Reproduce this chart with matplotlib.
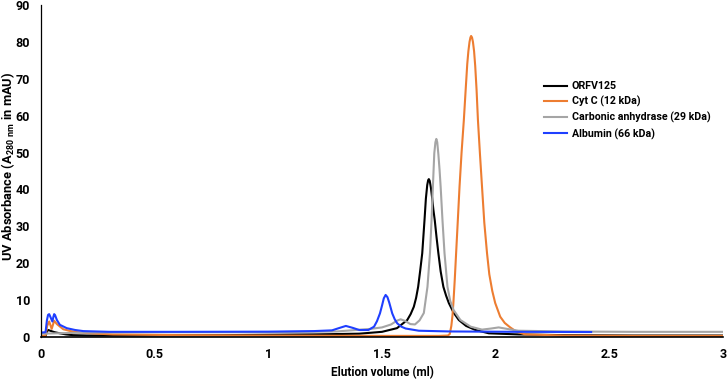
import matplotlib

matplotlib.use("Agg")

import matplotlib.pyplot as plt


# elution profiles (volume in ml, absorbance in mAU)
ORFV_X = [0.0, 0.02, 0.026, 0.032, 0.045, 0.06, 0.083, 0.11, 0.14, 0.2, 0.4, 0.8, 1.2, 1.4, 1.5,
          1.566, 1.611, 1.626, 1.64, 1.65, 1.659, 1.668, 1.677, 1.687, 1.693, 1.699, 1.703, 1.706,
          1.71, 1.715, 1.72, 1.726, 1.732, 1.74, 1.748, 1.758, 1.77, 1.782, 1.794, 1.815, 1.838,
          1.87, 1.911, 1.97, 2.1, 2.3, 2.6, 3.0]
ORFV_Y = [0.1, 0.2, 1.5, 1.9, 1.6, 1.3, 1.0, 0.7, 0.5, 0.4, 0.4, 0.5, 0.7, 0.9, 1.4,
          2.4, 4.6, 6.2, 8.2, 10.6, 13.6, 18.0, 22.7, 31.7, 37.5, 41.2, 42.5, 42.8,
          42.3, 40.5, 38.0, 34.5, 31.7, 27.0, 22.7, 17.8, 13.6, 11.2, 9.2, 6.6, 4.6,
          3.0, 1.9, 1.0, 0.7, 0.5, 0.4, 0.4]

CYTC_X = [0.0, 0.02, 0.027, 0.036, 0.047, 0.058, 0.07, 0.098, 0.13, 0.171, 0.25, 0.316, 0.6, 1.0,
          1.5, 1.75, 1.79, 1.798, 1.805, 1.81, 1.814, 1.82, 1.826, 1.833, 1.841, 1.85, 1.86, 1.868,
          1.875, 1.88, 1.885, 1.889, 1.892, 1.896, 1.9, 1.905, 1.91, 1.916, 1.922, 1.931, 1.94,
          1.95, 1.962, 1.972, 1.985, 1.998, 2.02, 2.04, 2.064, 2.09, 2.13, 2.3, 2.6, 3.0]
CYTC_Y = [0.3, 0.4, 3.0, 4.2, 2.2, 4.4, 3.5, 2.1, 1.6, 1.2, 0.9, 0.7, 0.5, 0.4,
          0.3, 0.3, 0.4, 0.8, 3.0, 5.8, 9.2, 15.5, 22.7, 31.0, 40.7, 50.0, 58.8, 67.0,
          74.0, 77.5, 80.0, 81.2, 81.6, 81.2, 80.0, 77.5, 73.5, 67.0, 58.8, 49.5, 40.7,
          31.0, 22.7, 17.0, 12.5, 9.2, 5.5, 3.8, 2.6, 1.5, 0.7, 0.4, 0.3, 0.3]

CARB_X = [0.0, 0.2, 0.6, 1.0, 1.3, 1.45, 1.5, 1.54, 1.565, 1.582, 1.6, 1.625, 1.645, 1.665,
          1.684, 1.70, 1.711, 1.718, 1.724, 1.73, 1.735, 1.739, 1.743, 1.748, 1.753, 1.758,
          1.766, 1.775, 1.788, 1.8, 1.815, 1.845, 1.89, 1.94, 1.98, 2.013, 2.05, 2.1, 2.3,
          2.6, 3.0]
CARB_Y = [0.9, 1.2, 1.3, 1.3, 1.5, 2.2, 2.6, 3.4, 4.4, 4.8, 4.4, 3.5, 3.4, 4.5,
          6.5, 13.6, 22.7, 31.7, 41.0, 49.8, 52.8, 53.7, 52.8, 49.5, 45.5, 40.7,
          31.7, 22.7, 13.6, 9.8, 7.3, 4.6, 2.8, 2.0, 2.3, 2.6, 2.2, 1.7, 1.5,
          1.4, 1.4]

ALB_X = [0.0, 0.02, 0.026, 0.031, 0.036, 0.043, 0.05, 0.055, 0.058, 0.062, 0.07, 0.083, 0.113,
         0.15, 0.186, 0.3, 0.6, 1.0, 1.2, 1.28, 1.31, 1.341, 1.37, 1.40, 1.44, 1.465, 1.478,
         1.491, 1.5, 1.508, 1.516, 1.524, 1.532, 1.545, 1.556, 1.567, 1.585, 1.604, 1.662,
         1.8, 2.1, 2.42]
ALB_Y = [1.2, 1.3, 4.5, 6.0, 6.2, 5.2, 4.2, 5.6, 6.2, 5.9, 4.6, 3.3, 2.4,
         1.9, 1.6, 1.4, 1.4, 1.45, 1.6, 1.8, 2.4, 3.0, 2.5, 1.9, 1.9, 2.8, 4.3,
         6.4, 8.5, 10.5, 11.4, 10.8, 9.3, 6.4, 4.8, 3.7, 2.8, 2.3, 1.7,
         1.5, 1.4, 1.35]

SERIES_LABELS = ["ORFV125", "Cyt C (12 kDa)", "Carbonic anhydrase (29 kDa)", "Albumin (66 kDa)"]
SERIES_COLORS = ["#000000", "#ed7d31", "#a5a5a5", "#1f3fff"]

X_TICKS = [0, 0.5, 1, 1.5, 2, 2.5, 3]
X_TICK_LABELS = ["0", "0.5", "1", "1.5", "2", "2.5", "3"]
Y_TICKS = [0, 10, 20, 30, 40, 50, 60, 70, 80, 90]

FONT = "Roboto"


def main():
    plt.rcParams["font.family"] = [FONT, "DejaVu Sans"]
    plt.rcParams["font.weight"] = "bold"
    plt.rcParams["axes.labelweight"] = "bold"
    plt.rcParams["mathtext.fontset"] = "custom"
    plt.rcParams["mathtext.rm"] = f"{FONT}:bold"
    plt.rcParams["mathtext.bf"] = f"{FONT}:bold"
    plt.rcParams["mathtext.default"] = "rm"

    fig = plt.figure(figsize=(7.27, 3.81), dpi=100)
    ax = fig.add_axes([41 / 727, 44 / 381, 682 / 727, 332 / 381])

    series = [(ORFV_X, ORFV_Y), (CYTC_X, CYTC_Y), (CARB_X, CARB_Y), (ALB_X, ALB_Y)]
    for (xs, ys), label, color in zip(series, SERIES_LABELS, SERIES_COLORS):
        ax.plot(xs, ys, color=color, lw=1.5, label=label, solid_joinstyle="round")

    ax.set_xlim(0, 3)
    ax.set_ylim(0, 90)
    ax.set_xticks(X_TICKS)
    ax.set_xticklabels(X_TICK_LABELS, fontweight="bold")
    ax.set_yticks(Y_TICKS)
    ax.set_yticklabels([str(v) for v in Y_TICKS], fontweight="bold")
    ax.tick_params(length=0, labelsize=9)
    ax.tick_params(axis="y", pad=8)
    ax.tick_params(axis="x", pad=8)

    for side in ("top", "right"):
        ax.spines[side].set_visible(False)
    ax.spines["left"].set_color("#000000")
    ax.spines["bottom"].set_color("#000000")
    ax.spines["left"].set_linewidth(0.9)
    ax.spines["bottom"].set_linewidth(1.2)

    ax.set_xlabel("Elution volume (ml)", fontsize=8.5, fontweight="bold")
    ax.set_ylabel("UV Absorbance (A$_{\\mathregular{280\\ nm}}$ in mAU)", fontsize=9.3, fontweight="bold")
    ax.xaxis.label.set_va("center")
    ax.yaxis.label.set_va("center")
    ax.xaxis.set_label_coords(0.5, -36 / 332)
    ax.yaxis.set_label_coords(-33 / 682, 171 / 332)

    ax.legend(loc="upper left", bbox_to_anchor=(540 / 727, 1 - 77 / 381),
              bbox_transform=fig.transFigure, frameon=False,
              prop={"size": 7.7, "weight": "bold"},
              handlelength=2.1, handletextpad=0.45, labelspacing=0.45, borderaxespad=0)

    fig.savefig("out.png", dpi=100)
    plt.close(fig)


if __name__ == "__main__":
    main()
